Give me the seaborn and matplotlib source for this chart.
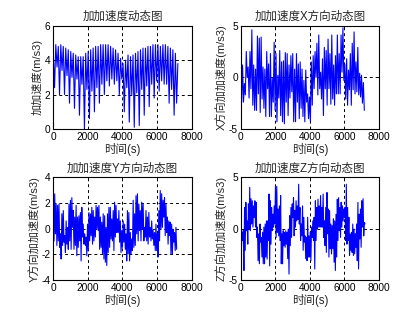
import numpy as np
import pandas as pd
import matplotlib
matplotlib.use("Agg")
import matplotlib.pyplot as plt
import seaborn as sns

# ---------------- data ----------------
titles = ["加加速度动态图", "加加速度X方向动态图", "加加速度Y方向动态图", "加加速度Z方向动态图"]
ylabels = ["加加速度(m/s3)", "X方向加加速度(m/s3)", "Y方向加加速度(m/s3)", "Z方向加加速度(m/s3)"]
xlabel = "时间(s)"
xticks = [0, 2000, 4000, 6000, 8000]
yticks_list = [[0, 2, 4, 6], [-5, 0, 5], [-4, -2, 0, 2, 4], [-5, 0, 5]]
ylims = [(0, 6), (-5, 5), (-4, 4), (-5, 5)]

# total jerk: alternating high / low samples
j_high = [4.4, 4.9, 4.8, 4.9, 4.8, 4.7, 4.6, 4.5, 4.4, 4.3,
          4.2, 4.2, 4.2, 4.4, 4.5, 4.6, 4.7, 4.8, 4.8, 4.9,
          4.9, 4.9, 4.9, 4.8, 4.7, 4.6, 4.4, 4.1, 3.8, 4.0,
          4.3, 4.2, 4.3, 4.4, 4.5, 4.6, 4.7, 4.7, 4.8, 4.8,
          4.9, 4.9, 4.9, 4.8, 4.9, 4.9, 4.8, 4.7, 4.6, 4.4]
j_low = [2.4, 3.6, 2.0, 3.4, 2.0, 3.1, 1.5, 3.0, 1.2, 2.9,
         0.8, 2.6, 0.0, 2.3, 0.6, 2.2, 1.0, 2.4, 1.5, 2.6,
         2.0, 2.8, 2.5, 2.9, 2.6, 2.8, 2.0, 2.9, 1.0, 2.4,
         0.4, 2.0, 0.1, 2.1, 0.2, 2.3, 0.8, 2.5, 1.3, 2.6,
         1.8, 2.8, 2.2, 2.8, 2.6, 2.6, 1.5, 2.3, 0.8, 1.5]
j_last = 3.8
j_tend = 7200

x_high = [4.7, 1.2, -0.6, 2.5, 1.0, 2.5, 4.6, 1.2, 0.8, 4.0,
          3.8, 3.9, 1.0, 0.8, 2.5, 1.3, 2.3, -0.1, 3.4, 2.3,
          0.2, 2.6, 1.5, 1.6, 2.4, 2.3, 1.2, 2.1, 2.3, 0.8,
          2.3, 1.3, 1.5, 0.8, -0.3,
          0.7, -1.6, -1.9, 1.5, 2.1, 2.5, 3.3, 4.1, 0.5, 1.8,
          2.9, 2.6, 3.7, 2.3, 4.1, 1.2, 2.1, 4.1, 2.3, 4.1,
          4.8, 1.3, 1.8, 0.7, 2.3, 3.3, 4.4, 1.5, 2.9, 0.4,
          0.2, -0.5]
x_low = [-2.4, -2.4, -1.7, 0.0, -2.0, -1.1, -2.7, -3.2, -3.2, -1.6,
         -3.4, -2.1, -3.0, -3.8, -1.1, -3.8, -3.8, -2.4, -3.2, -4.3,
         -2.0, -3.7, -4.3, -4.5, -2.4, -3.7, -2.0, -1.4, -4.3, -4.3,
         -2.4, -4.0, -3.0, -3.8, -4.3,
         -2.4, -4.0, -4.3, -2.7, -1.1, 0.0, -1.7, -1.1, -2.1, -3.7,
         -1.1, -2.7, -1.1, -2.6, -2.1, -2.7, -1.6, -1.6, -1.6, 0.5,
         -0.3, -2.1, -2.7, -1.2, -2.7, -1.2, -1.6, -1.4, -1.7, -1.9,
         -2.5, -3.2]
x_tend = 7150

y_high = [2.4, 2.7, 1.9, 1.8, 1.9, -0.4, 1.15, 1.4, -0.55, 0.6,
          0.1, 1.9, 2.2, 2.4, 1.4, 0.9, 1.8, 0.9, 1.0, 1.25,
          1.65, 0.35, -0.4, -0.65, 0.35, 1.25, 1.15, 1.65, 1.4, 0.9,
          1.8, 1.65, 1.8, 0.9, 0.5, 1.15, 1.0, 0.1, 1.15, 1.65,
          1.65, 0.75, 1.4, 2.05, 1.8, 0.75,
          1.4, 0.6, -0.15, 0.6, 0.35, -0.4, 1.4, 1.25, -0.3, -0.8,
          2.2, 1.15, 2.55, 2.7, 1.9, 1.4, 2.05, 1.9, 0.1, 1.4,
          0.9, 1.25, 0.1, 0.6, -0.15, -0.3, 0.35, -0.4, 1.4, 2.95,
          2.7, 2.2, 2.4, 1.9, 0.9, 0.6, 0.5, 0.35, -0.05, -0.3, 0.1]
y_low = [-0.95, -0.4, -1.3, -0.95, -1.45, -2.35, -1.3, -1.05, -1.85, -1.2,
         -1.6, -0.95, -1.6, 0.1, -1.6, -1.3, -2.1, -1.45, -0.95, -2.5,
         -0.65, -1.2, -1.3, -2.1, -1.7, -0.95, -0.55, -1.2, -0.95, -0.65,
         0.0, -0.15, -1.6, -1.45, -1.95, -2.35, -2.6, -2.85, -1.85, -1.45,
         -0.8, -0.95, -1.7, -0.65, -0.3, -0.3,
         -1.05, -1.85, -1.45, -1.05, -1.6, -2.5, -1.95, -2.5, -1.95, -1.7,
         -1.45, -1.3, -0.4, -0.95, -0.15, -0.95, -0.05, -0.95, -0.65, -0.95,
         -1.2, -0.65, -0.95, -0.8, -1.3, -1.7, -1.7, -2.2, -0.95, 0.0,
         0.1, 0.9, -0.55, -0.3, -1.2, -0.55, -1.95, -1.95, -1.05, -1.7, -1.6]
y_tend = 7130

z_high = [0.0, -0.35, -0.2, 2.05, 2.55, 0.75, 2.4, 4.0, 2.9, 2.7,
          2.2, 2.7, 2.55, 0.15, -0.5, 0.45, -0.85, -0.35, 0.15, 0.45,
          0.75, 0.75, 3.35, 2.7, 2.05, 1.4, 2.2, 4.1, 4.1, 1.9,
          2.2, 3.2, -0.5, -0.2, -0.35, -0.2, -0.35, -0.05, 1.25, 2.05,
          2.4, 3.0, 1.75, 2.7, 2.2, 4.3, 2.05, 0.45, 2.2, 1.1,
          -0.7, -0.85,
          1.1, -0.7, -0.35, 0.15, 0.75, 1.1, 2.7, 2.05, 2.85, 2.2,
          3.2, 2.05, 3.35, 0.75, 2.05, 3.5, 1.9, 1.75, 0.45, 0.3,
          0.95, 0.75, 1.4, 2.85, 3.0, 2.05, 2.55, 2.2, 1.9, 2.05,
          4.3, 2.05, 1.1, -0.5, -0.35, 0.45, -0.05, -0.5, 0.45, 2.55,
          1.4, 1.9, 2.7, 2.9, 0.6]
z_low = [-2.0, -1.15, -4.05, -2.1, -0.2, -1.5, 0.0, -0.2, 0.45, 0.15,
         1.1, 0.15, -0.85, -3.1, -3.4, -1.3, -2.75, -3.4, -3.4, -2.75,
         -2.95, -1.15, -3.6, -1.5, -0.2, 0.15, 0.45, -0.85, -0.35, -0.7,
         -1.15, -3.4, -3.4, -1.65, -1.8, -1.5, -2.9, -4.4, -1.65, -0.85,
         1.1, -0.7, 0.15, 0.75, 0.9, 0.45, -1.15, -0.7, -2.1, -1.3,
         -2.9, -3.1,
         -2.75, -2.75, -3.1, -0.85, -1.15, -3.9, -1.15, 0.0, 0.15, 0.15,
         0.15, 0.15, -0.85, -1.65, -2.3, -0.5, -2.75, -1.95, -2.45, -1.95,
         -3.25, -4.05, -2.75, -1.15, -0.2, -0.85, 0.15, 0.75, 1.1, -1.15,
         -1.5, -1.15, -2.6, -2.1, -2.3, -2.6, -2.45, -1.8, -3.1, -3.9,
         -1.0, -1.8, 0.15, -0.7, 0.45]
z_tend = 7190


def interleave(high, low, extra=None):
    v = np.column_stack([high, low]).ravel()
    if extra is not None:
        v = np.append(v, extra)
    return v


series = [
    (interleave(j_high, j_low, j_last), j_tend),
    (interleave(x_high, x_low), x_tend),
    (interleave(y_high, y_low), y_tend),
    (interleave(z_high, z_low), z_tend),
]

# ---------------- style ----------------
sns.set_theme(style="white")
plt.rcParams['font.family'] = ['Liberation Sans', 'Noto Sans CJK SC', 'DejaVu Sans']
plt.rcParams['axes.unicode_minus'] = False

W, H = 409, 326
fig = plt.figure(figsize=(W / 100, H / 100), dpi=100)
fig.patch.set_facecolor("white")

# axes boxes in pixels: (left, top, right, bottom)
boxes = [(53.3, 25.7, 191.7, 129.0), (240.7, 25.7, 379.0, 129.0),
         (53.3, 177.0, 191.7, 280.3), (240.7, 177.0, 379.0, 280.3)]

for i, (vals, tend) in enumerate(series):
    l, t, r, b = boxes[i]
    ax = fig.add_axes([l / W, 1 - b / H, (r - l) / W, (b - t) / H])
    df = pd.DataFrame({"t": np.linspace(0, tend, len(vals)), "v": vals})
    sns.lineplot(data=df, x="t", y="v", ax=ax, color=(0, 0, 1), lw=0.8,
                 sort=False, estimator=None)
    ax.set_xlim(0, 8000)
    ax.set_ylim(*ylims[i])
    ax.set_xticks(xticks)
    ax.set_yticks(yticks_list[i])
    ax.set_xticklabels([str(v) for v in xticks])
    ax.set_yticklabels([str(v) for v in yticks_list[i]])
    ax.tick_params(direction="in", length=2.5, width=0.6, labelsize=7.3,
                   top=True, right=True, pad=2, colors="black")
    ax.grid(True, color="black", linestyle=(0, (3, 3)), linewidth=0.7)
    for s in ax.spines.values():
        s.set_color("black")
        s.set_linewidth(0.8)
    ax.set_title(titles[i], fontsize=8.3, pad=4)
    ax.set_xlabel(xlabel, fontsize=8.3, labelpad=1)
    ax.set_ylabel(ylabels[i], fontsize=8.0, labelpad=1.5)
    ax.set_facecolor("white")

fig.savefig("out.png", dpi=100, facecolor="white")
